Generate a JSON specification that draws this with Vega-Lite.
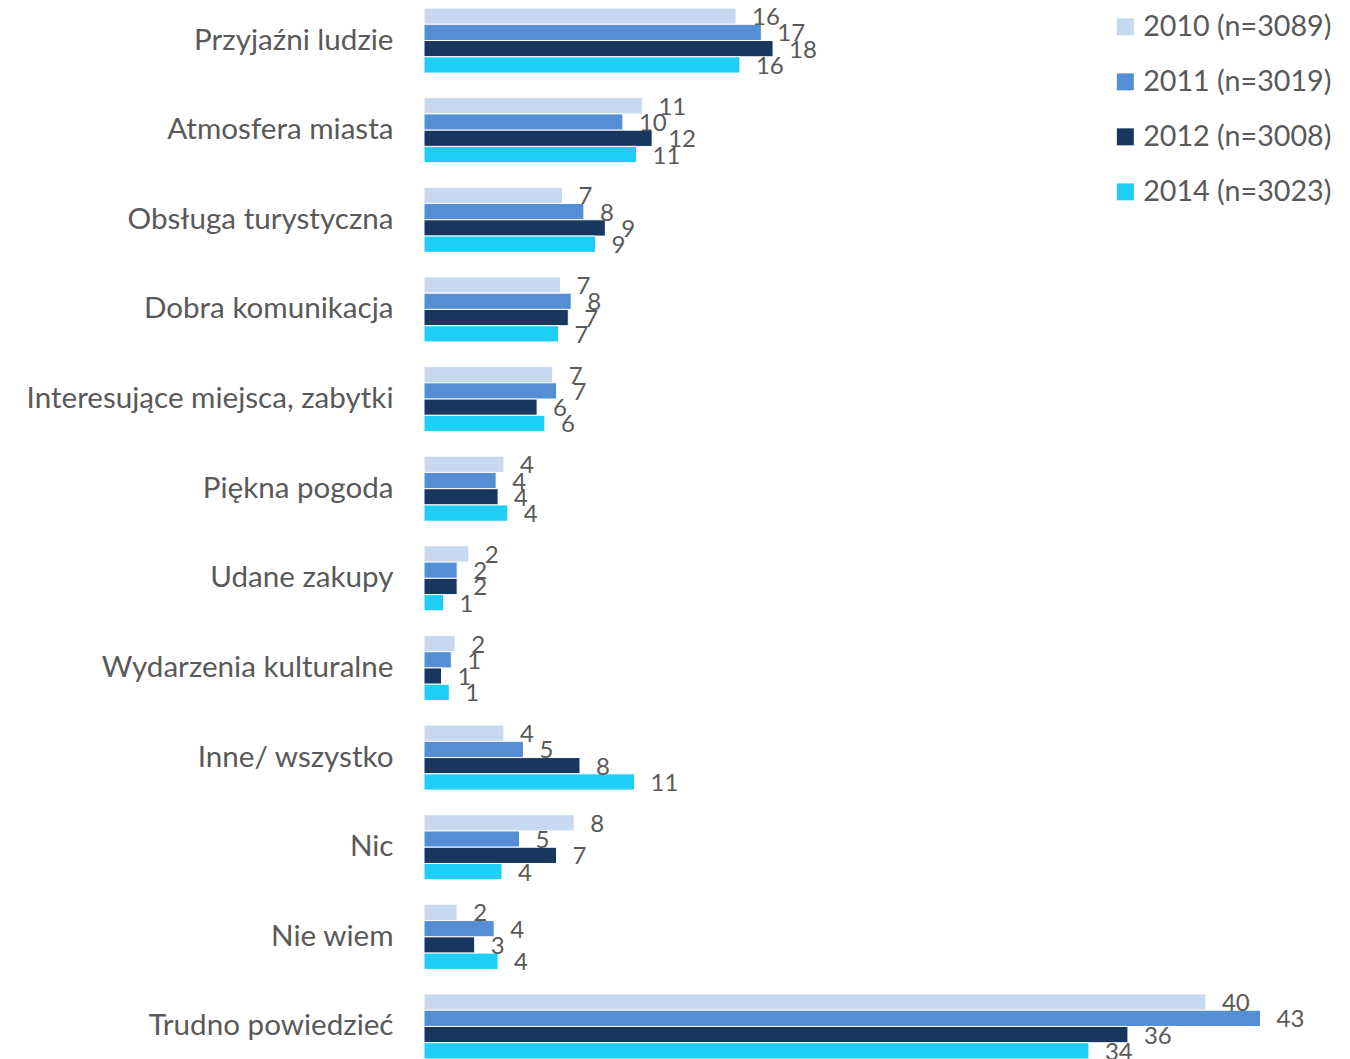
{
  "$schema": "https://vega.github.io/schema/vega-lite/v6.json",
  "width": 897,
  "height": 1051,
  "autosize": {"type": "none"},
  "padding": {"left": 424, "top": 8, "right": 29, "bottom": 0},
  "config": {"view": {"stroke": null}, "font": "Lato"},
  "data": {
    "values": [
      {"category": "Przyjaźni ludzie", "series": "2010 (n=3089)", "value": 16.0},
      {"category": "Przyjaźni ludzie", "series": "2011 (n=3019)", "value": 17.3},
      {"category": "Przyjaźni ludzie", "series": "2012 (n=3008)", "value": 17.9},
      {"category": "Przyjaźni ludzie", "series": "2014 (n=3023)", "value": 16.2},
      {"category": "Atmosfera miasta", "series": "2010 (n=3089)", "value": 11.2},
      {"category": "Atmosfera miasta", "series": "2011 (n=3019)", "value": 10.2},
      {"category": "Atmosfera miasta", "series": "2012 (n=3008)", "value": 11.7},
      {"category": "Atmosfera miasta", "series": "2014 (n=3023)", "value": 10.9},
      {"category": "Obsługa turystyczna", "series": "2010 (n=3089)", "value": 7.1},
      {"category": "Obsługa turystyczna", "series": "2011 (n=3019)", "value": 8.2},
      {"category": "Obsługa turystyczna", "series": "2012 (n=3008)", "value": 9.3},
      {"category": "Obsługa turystyczna", "series": "2014 (n=3023)", "value": 8.8},
      {"category": "Dobra komunikacja", "series": "2010 (n=3089)", "value": 7.0},
      {"category": "Dobra komunikacja", "series": "2011 (n=3019)", "value": 7.55},
      {"category": "Dobra komunikacja", "series": "2012 (n=3008)", "value": 7.4},
      {"category": "Dobra komunikacja", "series": "2014 (n=3023)", "value": 6.9},
      {"category": "Interesujące miejsca, zabytki", "series": "2010 (n=3089)", "value": 6.6},
      {"category": "Interesujące miejsca, zabytki", "series": "2011 (n=3019)", "value": 6.8},
      {"category": "Interesujące miejsca, zabytki", "series": "2012 (n=3008)", "value": 5.8},
      {"category": "Interesujące miejsca, zabytki", "series": "2014 (n=3023)", "value": 6.2},
      {"category": "Piękna pogoda", "series": "2010 (n=3089)", "value": 4.1},
      {"category": "Piękna pogoda", "series": "2011 (n=3019)", "value": 3.7},
      {"category": "Piękna pogoda", "series": "2012 (n=3008)", "value": 3.8},
      {"category": "Piękna pogoda", "series": "2014 (n=3023)", "value": 4.3},
      {"category": "Udane zakupy", "series": "2010 (n=3089)", "value": 2.3},
      {"category": "Udane zakupy", "series": "2011 (n=3019)", "value": 1.7},
      {"category": "Udane zakupy", "series": "2012 (n=3008)", "value": 1.7},
      {"category": "Udane zakupy", "series": "2014 (n=3023)", "value": 1.0},
      {"category": "Wydarzenia kulturalne", "series": "2010 (n=3089)", "value": 1.6},
      {"category": "Wydarzenia kulturalne", "series": "2011 (n=3019)", "value": 1.4},
      {"category": "Wydarzenia kulturalne", "series": "2012 (n=3008)", "value": 0.9},
      {"category": "Wydarzenia kulturalne", "series": "2014 (n=3023)", "value": 1.3},
      {"category": "Inne/ wszystko", "series": "2010 (n=3089)", "value": 4.1},
      {"category": "Inne/ wszystko", "series": "2011 (n=3019)", "value": 5.1},
      {"category": "Inne/ wszystko", "series": "2012 (n=3008)", "value": 8.0},
      {"category": "Inne/ wszystko", "series": "2014 (n=3023)", "value": 10.8},
      {"category": "Nic", "series": "2010 (n=3089)", "value": 7.7},
      {"category": "Nic", "series": "2011 (n=3019)", "value": 4.9},
      {"category": "Nic", "series": "2012 (n=3008)", "value": 6.8},
      {"category": "Nic", "series": "2014 (n=3023)", "value": 4.0},
      {"category": "Nie wiem", "series": "2010 (n=3089)", "value": 1.7},
      {"category": "Nie wiem", "series": "2011 (n=3019)", "value": 3.6},
      {"category": "Nie wiem", "series": "2012 (n=3008)", "value": 2.6},
      {"category": "Nie wiem", "series": "2014 (n=3023)", "value": 3.8},
      {"category": "Trudno powiedzieć", "series": "2010 (n=3089)", "value": 40.1},
      {"category": "Trudno powiedzieć", "series": "2011 (n=3019)", "value": 42.9},
      {"category": "Trudno powiedzieć", "series": "2012 (n=3008)", "value": 36.1},
      {"category": "Trudno powiedzieć", "series": "2014 (n=3023)", "value": 34.1}
    ]
  },
  "encoding": {
    "y": {
      "field": "category", "type": "nominal", "sort": null,
      "scale": {"paddingInner": 0.274, "paddingOuter": 0},
      "axis": {"title": null, "domain": false, "ticks": false, "labelPadding": 31, "labelFontSize": 29.6, "labelColor": "#595959", "labelFont": "Lato", "labelLimit": 500}
    },
    "yOffset": {"field": "series", "type": "nominal", "sort": null, "scale": {"paddingInner": 0, "paddingOuter": 0}},
    "x": {"field": "value", "type": "quantitative", "scale": {"domain": [0, 46], "nice": false, "zero": true}, "axis": null}
  },
  "layer": [
    {
      "mark": {"type": "bar", "stroke": "white", "strokeWidth": 1},
      "encoding": {
        "color": {
          "field": "series", "type": "nominal", "sort": null,
          "scale": {"domain": ["2010 (n=3089)", "2011 (n=3019)", "2012 (n=3008)", "2014 (n=3023)"], "range": ["#C6D9F1", "#558ED5", "#17375E", "#1FCEF5"]},
          "legend": {"title": null, "orient": "none", "legendX": 687, "legendY": 4.5, "symbolType": "square", "symbolSize": 289, "symbolStrokeWidth": 0, "symbolOpacity": 1, "labelFontSize": 28.7, "labelFont": "Lato", "labelColor": "#595959", "labelOffset": 3.5, "rowPadding": 25, "labelLimit": 400, "padding": 0}
        }
      }
    },
    {
      "mark": {"type": "text", "align": "left", "baseline": "middle", "dx": 16, "dy": 2, "fontSize": 24, "color": "#595959", "font": "Lato"},
      "encoding": {"text": {"field": "value", "type": "quantitative", "format": ".0f"}}
    }
  ]
}
